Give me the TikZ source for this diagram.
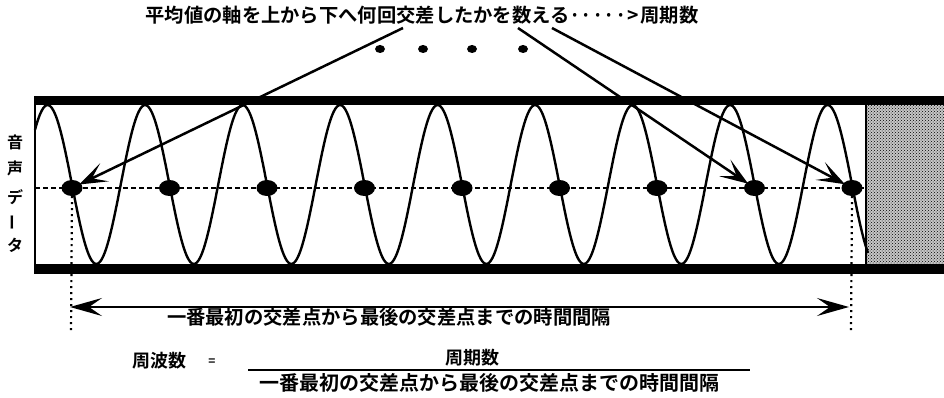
\documentclass[tikz,border=0pt]{standalone}
\usepackage{fontspec}
\newfontfamily\jp{Noto Sans CJK JP Bold}
\usetikzlibrary{arrows.meta,shapes.geometric,patterns}
\newcommand{\mdot}{\makebox[11.4pt]{·}}
\begin{document}
\begin{tikzpicture}[x=1pt,y=-1pt,
  jtxt/.style={font=\jp\fontsize{19.3}{20}\selectfont, inner sep=0pt},
  jsmall/.style={font=\jp\fontsize{18}{18}\selectfont, inner sep=0pt},
  vtxt/.style={font=\jp\fontsize{16}{16}\selectfont, inner sep=0pt},
  xdot/.style={ellipse, fill=black, minimum width=21pt, minimum height=16pt, inner sep=0pt},
  bigdot/.style={ellipse, fill=black, minimum width=10pt, minimum height=8pt, inner sep=0pt},
  ptr/.style={line width=2.5pt, -{Stealth[length=28pt,width=20pt,inset=14pt]}, shorten >=-2pt},
  span/.style={line width=2.4pt, {Stealth[length=32pt,width=18pt,inset=13pt]}-{Stealth[length=32pt,width=18pt,inset=13pt]}},
  wave/.style={line width=2.4pt},
  axisline/.style={line width=1.8pt, dash pattern=on 5pt off 3pt},
  guide/.style={line width=2.2pt, dash pattern=on 2pt off 4pt},
]
\useasboundingbox (0,0) rectangle (944,398);
\fill[white] (0,0) rectangle (944,398);

% stippled region
\fill[black!22] (866,105) rectangle (944,264);
\fill[pattern=crosshatch dots, pattern color=black] (866,105) rectangle (944,264);

% axis line (mean)
\draw[axisline] (35,188) -- (866,188);

% wave
\draw[wave] plot[domain=35:868, samples=500, smooth] (\x, {184.5-79.5*cos(3.69231*(\x-47.6))});

% box frame
\draw[line width=9pt] (35,100.5) -- (944,100.5);
\draw[line width=10pt] (35,269) -- (944,269);
\draw[line width=2pt] (35,96) -- (35,274);
\draw[line width=2pt] (866,105) -- (866,264);

% crossing points
\foreach \i in {0,...,8} {
  \node[xdot] (d\i) at ({72+97.5*\i},188) {};
}

% top text and dots
\node[jtxt] (top) at (422,15) {平均値の軸を上から下へ何回交差したかを数える\mdot\mdot\mdot\mdot\mdot\makebox[14pt]{>}周期数};
\node[bigdot] (e1) at (380,49) {};
\node[bigdot] (e2) at (423,49) {};
\node[bigdot] (e3) at (472,49) {};
\node[bigdot] (e4) at (523,49) {};

\coordinate (a1) at (403,28);
\coordinate (a2) at (518,28);
\coordinate (a3) at (552,28);
\draw[ptr] (a1) -- (d0);
\draw[ptr] (a2) -- (d7);
\draw[ptr] (a3) -- (d8);

% vertical label
\node[vtxt] (v1) at (15,142) {音};
\node[vtxt] (v2) at (15,168) {声};
\node[vtxt] (v3) at (15,197) {デ};
\node[vtxt, rotate=90] (v4) at (15,222) {ー};
\node[vtxt] (v5) at (15,245) {タ};

% guides and span arrow
\coordinate (gl) at (71,332);
\coordinate (gr) at (851,332);
\draw[guide] (d0.south) -- (gl);
\draw[guide] (d8.south) -- (gr);
\coordinate (sl) at (70,307);
\coordinate (sr) at (849,307);
\draw[span] (sl) -- (sr);
\node[jtxt] (lbl) at (389,317) {一番最初の交差点から最後の交差点までの時間間隔};

% formula
\node[jsmall] (f) at (159,361) {周波数};
\node[font=\jp\fontsize{12}{12}\selectfont, inner sep=0pt] (eq) at (212,362) {=};
\coordinate (fl) at (248,370);
\coordinate (fr) at (750,370);
\draw[line width=2.2pt] (fl) -- (fr);
\node[jsmall] (num) at (472,358) {周期数};
\node[font=\jp\fontsize{20}{20}\selectfont, inner sep=0pt] (den) at (489,383) {一番最初の交差点から最後の交差点までの時間間隔};
\end{tikzpicture}
\end{document}
